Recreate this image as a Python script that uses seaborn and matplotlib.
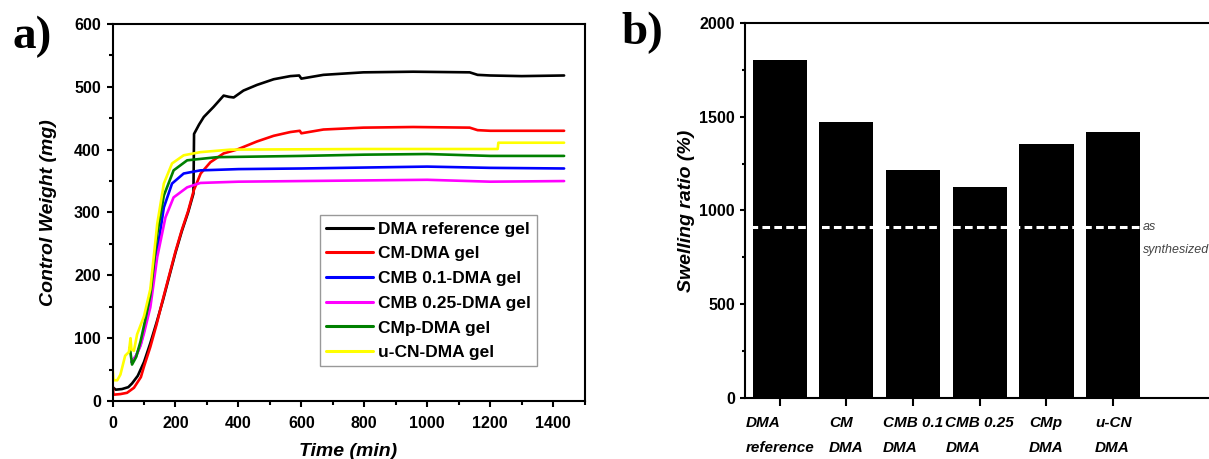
import numpy as np
import matplotlib
matplotlib.use("Agg")
import matplotlib.pyplot as plt
from matplotlib.ticker import MultipleLocator
import seaborn as sns

# ================================================================
# DATOS
# ================================================================

# a) control weight vs time, one (time, weight) list per gel
DMA_T = [0, 10, 30, 50, 62, 80, 100, 120, 140, 160, 180, 200, 220, 240, 257, 259,
         275, 290, 321, 353, 370, 385, 416, 459, 512, 565, 593, 600, 670, 797, 955,
         1135, 1160, 1200, 1300, 1435]
DMA_W = [22, 18, 19, 22, 28, 40, 62, 92, 125, 160, 198, 236, 270, 300, 330, 425,
         440, 452, 468, 486, 484, 483, 494, 503, 512, 517, 518, 513, 519, 523, 524,
         523, 519, 518, 517, 518]

CM_T = [0, 3, 25, 46, 68, 90, 100, 120, 140, 160, 180, 200, 220, 240, 258, 280,
        311, 353, 395, 459, 512, 565, 595, 600, 670, 797, 955, 1135, 1160, 1200, 1435]
CM_W = [27, 10, 11, 13, 21, 38, 55, 86, 122, 162, 200, 238, 272, 302, 335, 362,
        380, 394, 400, 413, 422, 428, 430, 426, 432, 435, 436, 435, 431, 430, 430]

CMB01_T = [60, 75, 89, 100, 120, 142, 163, 189, 226, 279, 400, 600, 1000, 1200, 1435]
CMB01_W = [62, 72, 90, 112, 160, 239, 308, 346, 362, 367, 369, 370, 373, 371, 370]

CMB025_T = [60, 75, 89, 100, 120, 142, 168, 194, 237, 279, 400, 600, 1000, 1200, 1435]
CMB025_W = [62, 72, 88, 108, 149, 229, 292, 324, 340, 347, 349, 350, 352, 349, 350]

CMP_T = [55, 62, 75, 89, 100, 120, 142, 163, 194, 237, 332, 600, 800, 1000, 1200, 1435]
CMP_W = [85, 58, 70, 95, 120, 168, 266, 327, 367, 383, 388, 390, 392, 393, 390, 390]

UCN_T = [0, 3, 15, 25, 40, 52, 57, 60, 68, 78, 100, 120, 142, 163, 189, 226, 279,
         374, 800, 1000, 1224, 1226, 1435]
UCN_W = [53, 33, 33, 42, 72, 78, 100, 82, 80, 106, 135, 178, 282, 346, 378, 391, 396,
         400, 401, 401, 401, 411, 411]

SERIES = [
    ("DMA reference gel", DMA_T, DMA_W, "black"),
    ("CM-DMA gel", CM_T, CM_W, "#ff0000"),
    ("CMB 0.1-DMA gel", CMB01_T, CMB01_W, "#0000ff"),
    ("CMB 0.25-DMA gel", CMB025_T, CMB025_W, "#ff00ff"),
    ("CMp-DMA gel", CMP_T, CMP_W, "#008000"),
    ("u-CN-DMA gel", UCN_T, UCN_W, "#ffff00"),
]

# b) swelling ratio
BAR_LABELS = ["DMA\nreference", "CM\nDMA", "CMB 0.1\nDMA", "CMB 0.25\nDMA", "CMp\nDMA", "u-CN\nDMA"]
SWELLING = [1804, 1473, 1216, 1126, 1355, 1421]
AS_SYNTHESIZED = 910

# ================================================================
# ESTILO
# ================================================================
sns.set_style("ticks")
plt.rcParams["font.family"] = ["Liberation Sans", "DejaVu Sans"]
plt.rcParams["axes.linewidth"] = 1.5
for key in ["text.color", "axes.labelcolor", "xtick.color", "ytick.color", "axes.edgecolor"]:
    plt.rcParams[key] = "black"

fig = plt.figure(figsize=(12.09, 4.59), dpi=100)
ax1 = fig.add_axes([0.0931, 0.1264, 0.3904, 0.8214])
ax2 = fig.add_axes([0.6162, 0.1329, 0.4149, 0.8170])

# ================================================================
# a) CURVAS
# ================================================================
for name, t, w, col in SERIES:
    sns.lineplot(x=t, y=w, ax=ax1, color=col, linewidth=1.9, label=name,
                 sort=False, estimator=None)

ax1.set_xlim(0, 1500)
ax1.set_ylim(0, 600)
ax1.xaxis.set_major_locator(MultipleLocator(200))
ax1.xaxis.set_minor_locator(MultipleLocator(100))
ax1.yaxis.set_major_locator(MultipleLocator(100))
ax1.yaxis.set_minor_locator(MultipleLocator(50))
ax1.set_xticks([0, 200, 400, 600, 800, 1000, 1200, 1400])
ax1.tick_params(which="major", length=4.5, width=1.5, labelsize=11.5, pad=4)
ax1.tick_params(which="minor", length=3, width=1.5)
ax1.tick_params(axis="x", which="major", pad=6)
for lab in ax1.get_xticklabels() + ax1.get_yticklabels():
    lab.set_fontweight("bold")
ax1.set_xlabel("Time (min)", fontsize=14, fontweight="bold", style="italic", labelpad=9)
ax1.set_ylabel("Control Weight (mg)", fontsize=14, fontweight="bold", style="italic", labelpad=12)

leg = ax1.legend(loc="upper left", bbox_to_anchor=(0.44, 0.492), borderaxespad=0,
                 fancybox=False, framealpha=1, edgecolor="#999999", handlelength=2.7,
                 handletextpad=0.3, labelspacing=0.55, borderpad=0.35,
                 prop={"size": 12.5, "weight": "bold"})
leg.get_frame().set_linewidth(1.0)
for h in leg.get_lines():
    h.set_linewidth(2.2)

# ================================================================
# b) BARRAS
# ================================================================
sns.barplot(x=BAR_LABELS, y=SWELLING, color="black", saturation=1, width=0.81,
            linewidth=0, ax=ax2)
ax2.hlines(AS_SYNTHESIZED, -0.45, 5.42, colors="white", linewidth=2.2,
           linestyles=(0, (2.5, 1.4)))
ax2.text(5.45, AS_SYNTHESIZED, "as", fontsize=9, style="italic", color="#444444",
         va="center", ha="left")
ax2.text(5.45, 790, "synthesized", fontsize=9, style="italic", color="#444444",
         va="center", ha="left")

ax2.set_xlim(-0.52, 7.0)
ax2.set_ylim(0, 2000)
ax2.yaxis.set_major_locator(MultipleLocator(500))
ax2.yaxis.set_minor_locator(MultipleLocator(250))
ax2.tick_params(axis="y", which="major", length=3.6, width=1.5, labelsize=11.5)
ax2.tick_params(axis="y", which="minor", length=2.5, width=1.5)
ax2.tick_params(axis="x", which="major", length=6, width=1.5, pad=7)
ax2.set_xticks(range(len(BAR_LABELS)))
ax2.set_xticklabels(BAR_LABELS, fontsize=11, fontweight="bold", style="italic",
                    ha="center", multialignment="left", linespacing=1.95)
for lab in ax2.get_yticklabels():
    lab.set_fontweight("bold")
ax2.set_xlabel("")
ax2.set_ylabel("Swelling ratio (%)", fontsize=14, fontweight="bold", style="italic", labelpad=3)

# panel letters
fig.text(12 / 1209, 1 - 16 / 459, "a)", fontsize=34, fontweight="bold",
         family="Liberation Serif", ha="left", va="top")
fig.text(621 / 1209, 1 - 12 / 459, "b)", fontsize=34, fontweight="bold",
         family="Liberation Serif", ha="left", va="top")

fig.savefig("out.png", dpi=100)
